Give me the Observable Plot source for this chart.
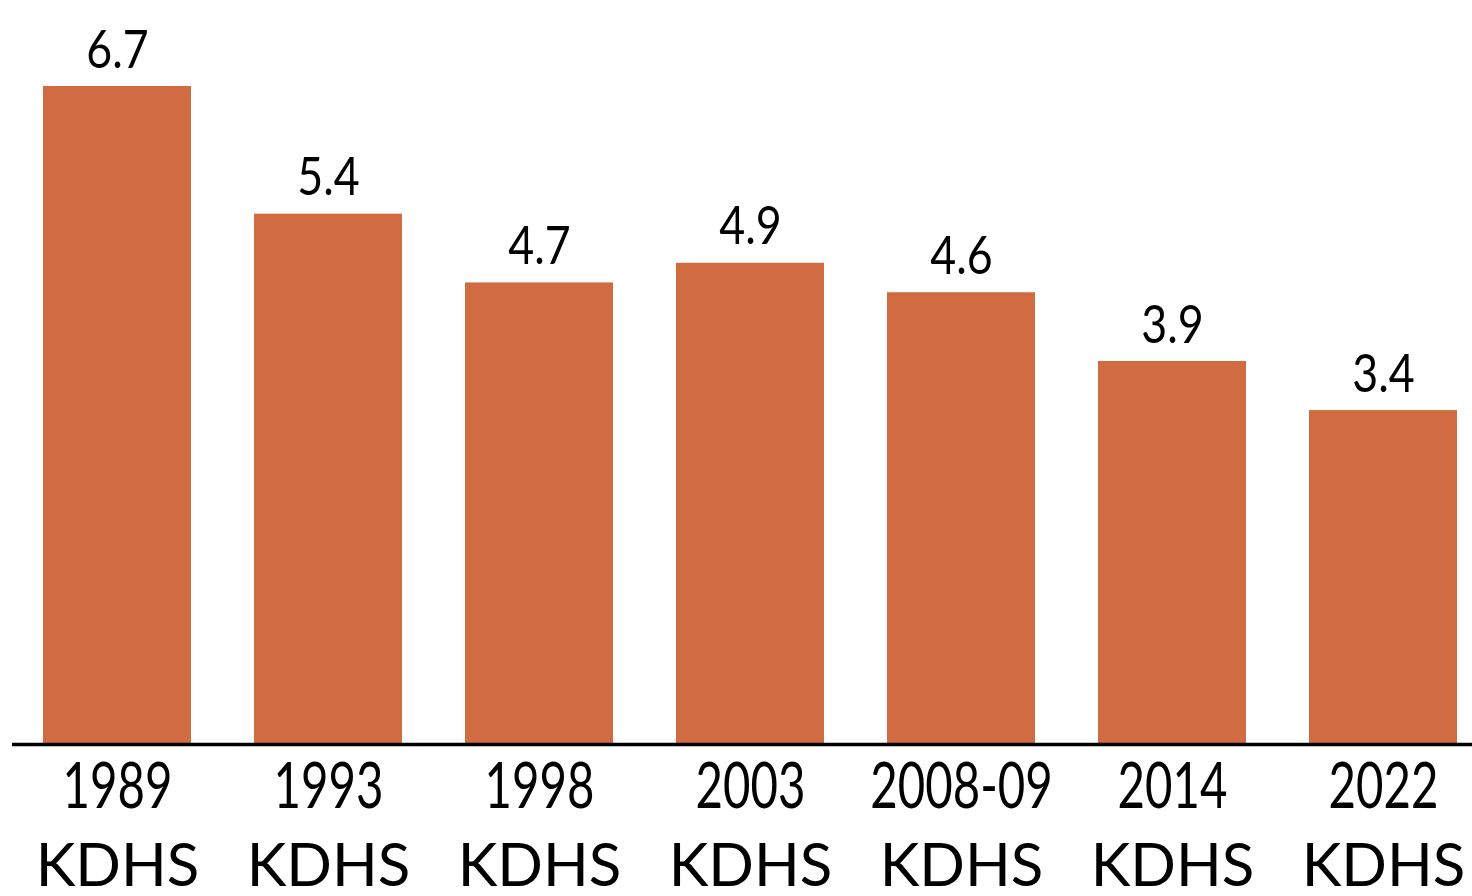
<!DOCTYPE html>
<html>
<head>
<meta charset="utf-8">
<script src="https://cdn.jsdelivr.net/npm/d3@7"></script>
<script src="https://cdn.jsdelivr.net/npm/@observablehq/plot@0.6"></script>
<style>
  html, body { margin: 0; padding: 0; background: #fff; }
  #chart svg { display: block; }
</style>
</head>
<body>
<div id="chart"></div>
<script>
const years = ["1989", "1993", "1998", "2003", "2008-09", "2014", "2022"];
const surveys = ["KDHS", "KDHS", "KDHS", "KDHS", "KDHS", "KDHS", "KDHS"];
const values = [6.7, 5.4, 4.7, 4.9, 4.6, 3.9, 3.4];

const data = years.map((y, i) => ({year: y, survey: surveys[i], value: values[i]}));

const font = "Lato, 'Open Sans', sans-serif";

const chart = Plot.plot({
  width: 1472,
  height: 896,
  marginTop: 86,
  marginBottom: 152,
  marginLeft: 12,
  marginRight: 0,
  style: {fontFamily: font, background: "#fff", overflow: "visible"},
  x: {domain: years, paddingInner: 0.3, paddingOuter: 0.1065, align: 0.68, axis: null},
  y: {domain: [0, 6.7], axis: null},
  marks: [
    Plot.barY(data, {x: "year", y: "value", fill: "#D06B42"}),
    Plot.ruleY([0], {stroke: "#000", strokeWidth: 3.5}),
    Plot.text(data, {x: "year", y: "value", text: d => d.value.toFixed(1), fontSize: 52, fill: "#000", lineAnchor: "middle", dy: -35.6}),
    Plot.text(data, {x: "year", y: () => 0, text: "year", fontSize: 64, fill: "#000", lineAnchor: "middle", dy: 43.5}),
    Plot.text(data, {x: "year", y: () => 0, text: "survey", fontSize: 60, fill: "#000", lineAnchor: "middle", dy: 121.8})
  ]
});

document.getElementById("chart").appendChild(chart);

function squeeze(g, s) {
  g.querySelectorAll("text").forEach(t => {
    const tr = t.getAttribute("transform");
    if (tr) {
      t.setAttribute("transform", tr + ` scale(${s},1)`);
    } else {
      const x = +(t.getAttribute("x") || 0);
      t.setAttribute("x", 0);
      t.setAttribute("transform", `translate(${x},0) scale(${s},1)`);
    }
  });
}
const textGroups = chart.querySelectorAll('g[aria-label="text"]');
if (textGroups.length >= 3) {
  squeeze(textGroups[0], 0.86);
  squeeze(textGroups[1], 0.74);
  squeeze(textGroups[2], 1.0);
}
</script>
</body>
</html>
